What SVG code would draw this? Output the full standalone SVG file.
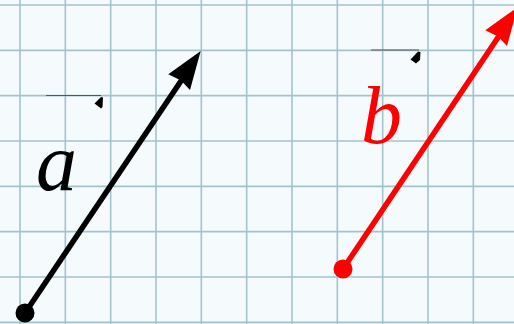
<svg xmlns="http://www.w3.org/2000/svg" width="514" height="324" viewBox="0 0 514 324">
<defs>
<style>
.grid line{stroke:#a3c3cc;stroke-width:1.6}
.lbl{font-family:"Liberation Serif","Times New Roman",serif;font-style:italic;font-size:82px}
.bar{stroke:#555;stroke-width:1.2}
</style>
</defs>
<rect width="514" height="324" fill="#f5fbfd"/>
<g class="grid">
<line x1="20" y1="0" x2="20" y2="324"/>
<line x1="65.33" y1="0" x2="65.33" y2="324"/>
<line x1="110.67" y1="0" x2="110.67" y2="324"/>
<line x1="156" y1="0" x2="156" y2="324"/>
<line x1="201.33" y1="0" x2="201.33" y2="324"/>
<line x1="246.67" y1="0" x2="246.67" y2="324"/>
<line x1="292" y1="0" x2="292" y2="324"/>
<line x1="337.33" y1="0" x2="337.33" y2="324"/>
<line x1="382.67" y1="0" x2="382.67" y2="324"/>
<line x1="428" y1="0" x2="428" y2="324"/>
<line x1="473.33" y1="0" x2="473.33" y2="324"/>
<line x1="0" y1="5" x2="514" y2="5"/>
<line x1="0" y1="50.33" x2="514" y2="50.33"/>
<line x1="0" y1="95.67" x2="514" y2="95.67"/>
<line x1="0" y1="141" x2="514" y2="141"/>
<line x1="0" y1="186.33" x2="514" y2="186.33"/>
<line x1="0" y1="231.67" x2="514" y2="231.67"/>
<line x1="0" y1="277" x2="514" y2="277"/>
<line x1="0" y1="322.33" x2="514" y2="322.33"/>
</g>
<g id="label-a">
<line class="bar" x1="46" y1="95.5" x2="101" y2="95.5"/>
<polygon points="94.5,103.5 101,97 103,97.5 102.5,107 101,108.5" fill="#000"/>
<text class="lbl" x="36" y="190" fill="#000">a</text>
</g>
<g id="label-b">
<line class="bar" x1="371" y1="50" x2="419" y2="50"/>
<polygon points="410.5,59.5 418,51.5 420.5,52 420,60 416,63.5" fill="#000"/>
<text class="lbl" x="361" y="143" fill="#f00">b</text>
</g>
<g id="connectors">
<g id="vector-a">
<line x1="25" y1="313" x2="183" y2="78" stroke="#000" stroke-width="5.5"/>
<polygon points="200.7,51 168.3,74.3 181,80.5 190,90" fill="#000"/>
<circle cx="25" cy="313" r="9.5" fill="#000"/>
</g>
<g id="vector-b">
<line x1="343" y1="269" x2="499" y2="36" stroke="#f00" stroke-width="5.5"/>
<polygon points="517.7,7 485.3,30.3 498,36.5 507,46" fill="#f00"/>
<circle cx="343" cy="269" r="9.5" fill="#f00"/>
</g>
</g>
</svg>
